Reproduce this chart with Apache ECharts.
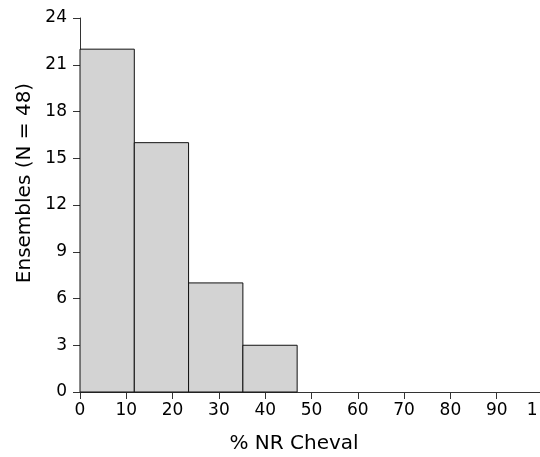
<!DOCTYPE html>
<html>
<head>
<meta charset="utf-8">
<script src="https://cdn.jsdelivr.net/npm/echarts@6/dist/echarts.min.js"></script>
<style>
html,body{margin:0;padding:0;background:#fff;}
#main{width:540px;height:457px;}
</style>
</head>
<body>
<div id="main"></div>
<script>
const binStarts = [0, 11.73, 23.45, 35.18];
const binEnds = [11.73, 23.45, 35.18, 46.9];
const counts = [22, 16, 7, 3];
const xTickLabels = ['0','10','20','30','40','50','60','70','80','90','1'];
const yTickLabels = ['0','3','6','9','12','15','18','21','24'];
const xTitle = '% NR Cheval';
const yTitle = 'Ensembles (N = 48)';

const data = counts.map((c, i) => [binStarts[i], binEnds[i], c]);

const chart = echarts.init(document.getElementById('main'), null, {renderer: 'canvas'});
chart.setOption({
  animation: false,
  backgroundColor: '#fff',
  grid: {left: 80, top: 18, width: 463, height: 374, containLabel: false, outerBoundsMode: 'none'},
  xAxis: {
    type: 'value', min: 0, max: 100, interval: 10,
    name: xTitle, nameLocation: 'middle', nameGap: 42,
    nameTextStyle: {fontFamily: 'DejaVu Sans', fontSize: 20, color: '#000', padding: [0, 35, 0, 0]},
    axisLine: {show: true, lineStyle: {color: '#333', width: 1}},
    axisTick: {show: true, length: 7, lineStyle: {color: '#333'}},
    axisLabel: {fontFamily: 'DejaVu Sans', fontSize: 17, color: '#000', margin: 10,
      formatter: function (v) {
        const i = Math.round(v / 10);
        return i === 10 ? xTickLabels[i] + '    ' : xTickLabels[i];
      }},
    splitLine: {show: false}
  },
  yAxis: {
    type: 'value', min: 0, max: 24, interval: 3,
    name: yTitle, nameLocation: 'middle', nameGap: 45, nameRotate: 90,
    nameTextStyle: {fontFamily: 'DejaVu Sans', fontSize: 20, color: '#000', padding: [0, 0, 0, 44]},
    axisLine: {show: true, lineStyle: {color: '#333', width: 1}},
    axisTick: {show: true, length: 7, lineStyle: {color: '#333'}},
    axisLabel: {fontFamily: 'DejaVu Sans', fontSize: 17, color: '#000', margin: 13,
      formatter: v => yTickLabels[Math.round(v / 3)]},
    splitLine: {show: false}
  },
  series: [{
    type: 'custom',
    data: data,
    encode: {x: [0, 1], y: 2},
    renderItem: function (params, api) {
      const p0 = api.coord([api.value(0), api.value(2)]);
      const p1 = api.coord([api.value(1), 0]);
      return {
        type: 'rect',
        shape: {x: p0[0], y: p0[1], width: p1[0] - p0[0], height: p1[1] - p0[1]},
        style: {fill: '#d3d3d3', stroke: '#111', lineWidth: 1}
      };
    }
  }]
});
</script>
</body>
</html>
